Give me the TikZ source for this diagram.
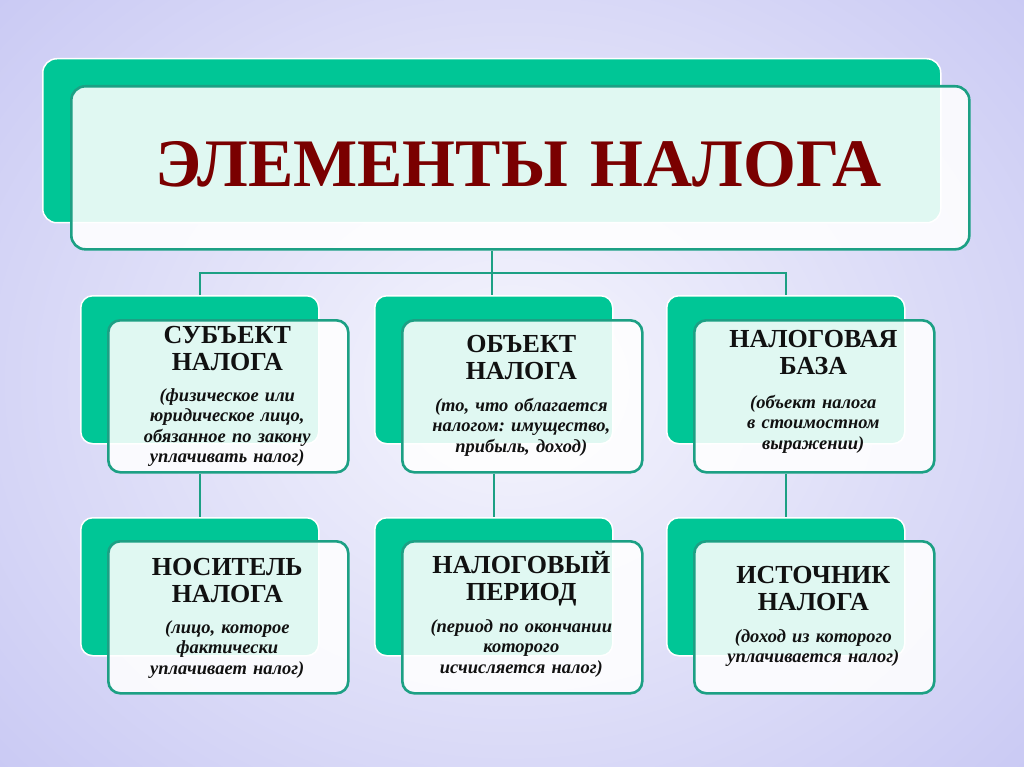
\documentclass[tikz,border=0pt]{standalone}
\usepackage{fontspec}
\setmainfont{Liberation Serif}
\usetikzlibrary{positioning}
\frenchspacing

\definecolor{bgin}{RGB}{246,246,253}
\definecolor{bgout}{RGB}{194,194,242}
\definecolor{tabgreen}{RGB}{0,198,150}
\definecolor{rim}{RGB}{28,160,132}
\definecolor{maroon}{RGB}{122,0,0}
\definecolor{ink}{RGB}{17,17,17}

\begin{document}
\begin{tikzpicture}[
    x=1pt, y=-1pt,
    tab/.style={
        fill=tabgreen,
        draw=white,
        line width=1.5pt,
        rounded corners=12pt,
        anchor=north west,
        inner sep=0pt,
        minimum width=238pt,
        minimum height=148pt,
    },
    tablow/.style={tab,minimum height=138pt,},
    panel/.style={
        fill=white,
        fill opacity=0.88,
        draw=rim,
        line width=2.6pt,
        rounded corners=12pt,
        anchor=north west,
        inner sep=0pt,
        minimum width=240pt,
        minimum height=152pt,
    },
    head/.style={
        font=\fontsize{26}{27.5}\selectfont\bfseries,
        text=ink,
        align=center,
        text width=236pt,
        anchor=base,
        inner sep=0pt,
    },
    note/.style={head,font=\fontsize{18.5}{20.5}\selectfont\bfseries\itshape,},
    link/.style={draw=rim,line width=2.2pt,},
]
    \useasboundingbox (0,0) rectangle (1024,767);
    % ~~~ background ~~~~~~~~~~~~
    \begin{scope}
        \clip (0,0) rectangle (1024,767);
        \shade[inner color=bgin,outer color=bgout] (-300,-300) rectangle (1324,1067);
    \end{scope}
    % ~~~ title ~~~~~~~~~~~~
    \node[tab,minimum width=898pt,minimum height=164pt,rounded corners=14pt] (tg) at (42,58) {};
    \node[panel,minimum width=898pt,minimum height=163pt,rounded corners=14pt] (tw) at ([shift={(28,27)}]tg.north west) {};
    \node[head,text width=880pt,text=maroon,font=\fontsize{68}{70}\selectfont\bfseries] (title) at ([shift={(-2,102)}]tw.north) {ЭЛЕМЕНТЫ НАЛОГА};
    % ~~~ upper row ~~~~~~~~~~~~
    \node[tab] (g1) at (80,295) {};
    \node[tab] (g2) at (374,295) {};
    \node[tab] (g3) at (666,295) {};
    \node[panel] (w1) at ([shift={(27,24)}]g1.north west) {};
    \node[panel] (w2) at ([shift={(27,24)}]g2.north west) {};
    \node[panel] (w3) at ([shift={(27,24)}]g3.north west) {};
    \node[head] (h1) at ([shift={(-1,24)}]w1.north) {СУБЪЕКТ\\НАЛОГА};
    \node[note] (n1) at ([shift={(-1,82)}]w1.north) {(физическое или\\юридическое лицо,\\обязанное по закону\\уплачивать налог)};
    \node[head] (h2) at ([shift={(-1,33)}]w2.north) {ОБЪЕКТ\\НАЛОГА};
    \node[note] (n2) at ([shift={(-1,92)}]w2.north) {(то, что облагается\\налогом: имущество,\\прибыль, доход)};
    \node[head] (h3) at ([shift={(-1,28)}]w3.north) {НАЛОГОВАЯ\\БАЗА};
    \node[note] (n3) at ([shift={(-1,89)}]w3.north) {(объект налога\\в стоимостном\\выражении)};
    % ~~~ lower row ~~~~~~~~~~~~
    \node[tablow] (g4) at (80,517) {};
    \node[tablow] (g5) at (374,517) {};
    \node[tablow] (g6) at (666,517) {};
    \node[panel] (w4) at ([shift={(27,23)}]g4.north west) {};
    \node[panel] (w5) at ([shift={(27,23)}]g5.north west) {};
    \node[panel] (w6) at ([shift={(27,23)}]g6.north west) {};
    \node[head] (h4) at ([shift={(-1,35)}]w4.north) {НОСИТЕЛЬ\\НАЛОГА};
    \node[note] (n4) at ([shift={(-1,93)}]w4.north) {(лицо, которое\\фактически\\уплачивает налог)};
    \node[head] (h5) at ([shift={(-1,33)}]w5.north) {НАЛОГОВЫЙ\\ПЕРИОД};
    \node[note] (n5) at ([shift={(-1,92)}]w5.north) {(период по окончании\\которого\\исчисляется налог)};
    \node[head] (h6) at ([shift={(-1,43)}]w6.north) {ИСТОЧНИК\\НАЛОГА};
    \node[note] (n6) at ([shift={(-1,102)}]w6.north) {(доход из которого\\уплачивается налог)};
    % ~~~ connectors ~~~~~~~~~
    \draw[link] (tg.south |- tw.south) -- ++(0,22) coordinate (hub);
    \draw[link] (g1.north) |- (hub) -| (g3.north);
    \draw[link] (hub) -- (hub |- g2.north);
    \draw[link] (g1.south |- w1.south) -- (g4.north);
    \draw[link] (g2.south |- w2.south) -- (g5.north);
    \draw[link] (g3.south |- w3.south) -- (g6.north);
\end{tikzpicture}
\end{document}
